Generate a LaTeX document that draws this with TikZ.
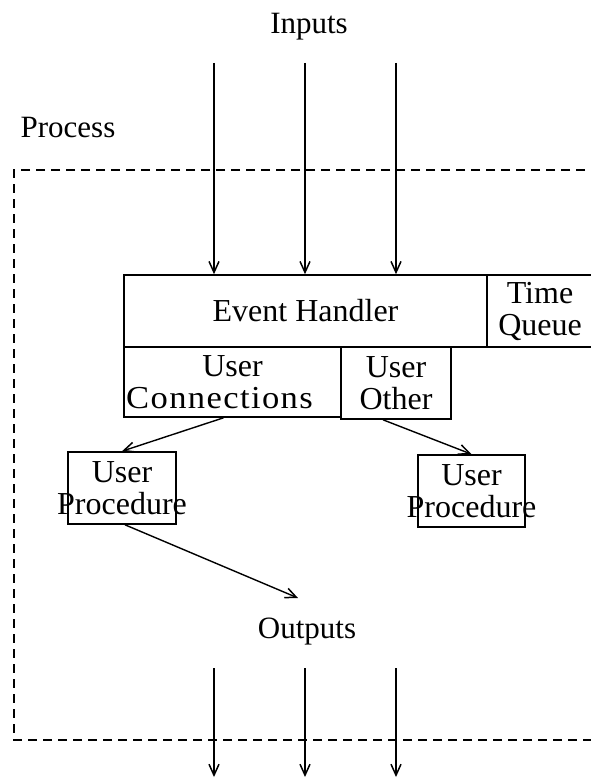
\documentclass[tikz,border=0pt]{standalone}
\usepackage{fontspec}
\setmainfont{Liberation Serif}
\usetikzlibrary{arrows.meta,calc}
\begin{document}
\begin{tikzpicture}[x=1pt,y=-1pt,
  box/.style={draw,line width=1.6pt,rectangle,inner sep=0pt,font=\fontsize{32}{32}\selectfont,align=center},
  boxtext/.style={font=\fontsize{32}{32}\selectfont,align=center,inner sep=0pt},
  lbl/.style={font=\fontsize{31}{31}\selectfont,inner sep=0pt},
  arr/.style={line width=1.4pt,-{Straight Barb[length=11pt,width=10pt,line width=1.5pt]}},
  proc/.style={line width=1.8pt,dash pattern=on 9pt off 6pt}]
\useasboundingbox (0,0) rectangle (590,778);
\fill[white] (0,0) rectangle (590,778);
% labels
\node[lbl] (inputs) at (309,27) {Inputs};
\node[lbl] (process) at (68,128) {Process};
\node[lbl] (outputs) at (307,632) {Outputs};
% process boundary
\draw[proc] (600,170) -- (14,170) -- (14,740) -- (600,740);
% boxes
\node[box, minimum width=363pt, minimum height=72pt] (eh) at (305.5,311) {Event Handler};
\node[box, minimum width=106pt, minimum height=72pt] (tq) at (540,311) {Time\\Queue};
\node[box, minimum width=217pt, minimum height=70pt] (uc) at (232.5,382) {User\\\hspace*{-26pt}\scalebox{1.08}[1]{\addfontfeature{LetterSpace=4}Connections}};
\node[box, minimum width=110pt, minimum height=72pt] (uo) at (396,383) {User\\Other};
\node[box, minimum width=108pt, minimum height=72pt, label={[boxtext]center:User\\Procedure}] (up1) at (122,488) {};
\node[box, minimum width=107pt, minimum height=72pt, label={[boxtext]center:User\\Procedure}] (up2) at (471.5,491) {};
% input arrows
\coordinate (i1) at (214,63);
\coordinate (i2) at (305,63);
\coordinate (i3) at (396,63);
\draw[arr] (i1) -- (i1 |- eh.north);
\draw[arr] (i2) -- (i2 |- eh.north);
\draw[arr] (i3) -- (i3 |- eh.north);
% internal arrows
\coordinate (oc) at (298,598);
\draw[arr] ([xshift=-9pt]uc.south) -- (up1.north);
\draw[arr] ([xshift=-13pt]uo.south) -- (up2.north);
\draw[arr] ([xshift=3pt]up1.south) -- (oc);
% output arrows
\coordinate (o1) at (214,668);
\coordinate (o2) at (305,668);
\coordinate (o3) at (396,668);
\coordinate (e1) at (214,777);
\coordinate (e2) at (305,777);
\coordinate (e3) at (396,777);
\draw[arr] (o1) -- (e1);
\draw[arr] (o2) -- (e2);
\draw[arr] (o3) -- (e3);
\end{tikzpicture}
\end{document}
